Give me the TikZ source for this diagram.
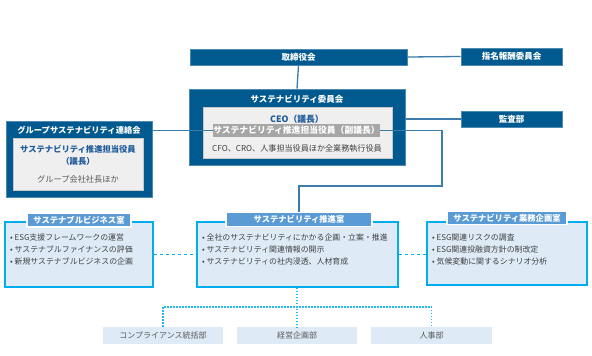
\documentclass[tikz,border=0pt]{standalone}
\usepackage{fontspec}
\setmainfont{Noto Sans CJK JP}
\usetikzlibrary{positioning, calc}
\definecolor{orgnavy}{HTML}{005A8F}
\definecolor{linkblue}{HTML}{3A7CAB}
\definecolor{deskcyan}{HTML}{00AEEF}
\definecolor{tabblue}{HTML}{5B9BD5}
\definecolor{paleblue}{HTML}{DEEBF7}
\definecolor{panelgray}{HTML}{EFEFEF}
\definecolor{chairgray}{HTML}{A6A6A6}
\definecolor{leadblue}{HTML}{1F5C99}
\definecolor{bodygray}{HTML}{404040}
\definecolor{unitgray}{HTML}{595959}

\begin{document}
\begin{tikzpicture}[x=1pt, y=-1pt,
  navybox/.style={rectangle, fill=orgnavy, draw=orgnavy!70!white, line width=0.6pt,
               text=white, inner sep=0pt, font=\fontsize{8.5}{10}\selectfont\bfseries},
  panel/.style={rectangle, fill=panelgray, draw=black!22, line width=0.5pt, inner sep=0pt},
  deskbox/.style={rectangle, fill=paleblue, draw=deskcyan, line width=1.5pt, inner sep=0pt},
  desktab/.style={rectangle, fill=tabblue, draw=white, line width=1.5pt, text=white,
               inner sep=0pt, minimum height=14pt, font=\fontsize{8.3}{10}\selectfont\bfseries},
  items/.style={anchor=north west, align=left, inner sep=0pt, text=bodygray,
               font=\fontsize{7.9}{12}\selectfont},
  unitbox/.style={rectangle, fill=paleblue, inner sep=0pt, minimum width=120pt,
               minimum height=17pt, text=unitgray, font=\fontsize{8}{10}\selectfont},
  link/.style={draw=linkblue, line width=1.3pt},
  deskdash/.style={draw=deskcyan, line width=1.3pt, dash pattern=on 3.5pt off 2.5pt},
  unitdot/.style={draw=deskcyan!85!white, line width=1.3pt, dash pattern=on 1.6pt off 1.4pt},
]
\fill[white] (0,0) rectangle (592,356);
\useasboundingbox (0,0) rectangle (592,356);

% top board and committees
\node[navybox, minimum width=217pt, minimum height=16pt] (board) at (298.5,57) {取締役会};
\node[navybox, minimum width=101pt, minimum height=17pt] (nomination) at (511.5,56.5) {指名報酬委員会};
\node[navybox, minimum width=101pt, minimum height=16pt] (audit) at (511.5,119) {監査部};

% sustainability committee
\node[navybox, minimum width=216pt, minimum height=76pt] (committee) at (297,127) {};
\node[text=white, font=\fontsize{8.5}{10}\selectfont\bfseries] (committeetitle) at (297,99) {サステナビリティ委員会};
\node[panel, minimum width=189pt, minimum height=51pt] (committeepanel) at (297.5,132.5) {};
\node[text=leadblue, font=\fontsize{8.8}{10}\selectfont\bfseries] (ceo) at (297,119.5) {CEO（議長）};
\node[rectangle, fill=chairgray, text=white, inner sep=0pt, minimum width=167pt, minimum height=13pt,
      font=\fontsize{8.8}{10}\selectfont\bfseries] (vice) at (296.5,130.5) {サステナビリティ推進担当役員（副議長）};
\node[text=bodygray, font=\fontsize{8.1}{10}\selectfont] (members) at (297,148) {CFO、CRO、人事担当役員ほか全業務執行役員};

% group liaison meeting
\node[navybox, minimum width=146pt, minimum height=76pt] (group) at (79,159) {};
\node[text=white, font=\fontsize{8.3}{10}\selectfont\bfseries] (grouptitle) at (79,130) {グループサステナビリティ連絡会};
\node[panel, minimum width=130pt, minimum height=52pt] (grouppanel) at (78,164) {};
\node[align=center, text=leadblue, font=\fontsize{8.3}{12}\selectfont\bfseries] (grouplead) at (78,155) {サステナビリティ推進担当役員\\（議長）};
\node[text=unitgray, font=\fontsize{8.2}{10}\selectfont] (groupmembers) at (78,179) {グループ会社社長ほか};

% sustainability desks
\node[deskbox, minimum width=148pt, minimum height=65pt] (business) at (79,254.5) {};
\node[deskbox, minimum width=201pt, minimum height=65pt] (promotion) at (297.5,254.5) {};
\node[deskbox, minimum width=160pt, minimum height=63pt] (planning) at (507,253.5) {};
\node[desktab, minimum width=104pt] (businesstab) at (79,220) {サステナブルビジネス室};
\node[desktab, minimum width=146pt] (promotiontab) at (299,219.5) {サステナビリティ推進室};
\node[desktab, minimum width=120pt, minimum height=13pt] (planningtab) at (507,218) {サステナビリティ業務企画室};

\node[items] (businessitems) at (10,234) {• ESG支援フレームワークの運営\\• サステナブルファイナンスの評価\\• 新規サステナブルビジネスの企画};
\node[items] (promotionitems) at (202,234) {• 全社のサステナビリティにかかる企画・立案・推進\\• サステナビリティ関連情報の開示\\• サステナビリティの社内浸透、人材育成};
\node[items] (planningitems) at (432,234) {• ESG関連リスクの調査\\• ESG関連投融資方針の制改定\\• 気候変動に関するシナリオ分析};

% cooperating departments
\node[unitbox] (compliance) at (163,335.5) {コンプライアンス統括部};
\node[unitbox] (corpplan) at (297,335.5) {経営企画部};
\node[unitbox, minimum width=121pt] (hr) at (431.5,335.5) {人事部};

% connectors
\coordinate (turn) at (442,186);
\coordinate (hub) at (297,307);
\draw[link] (board.south) -- (committee.north);
\draw[link] (board.east) -- (nomination.west);
\draw[link] (committee.east |- audit.west) -- (audit.west);
\draw[link] (group.east |- vice.west) -- (vice.west);
\draw[link] (vice.east) -| (turn) -| (promotiontab.north);
\draw[deskdash] (business.east) -- (promotion.west);
\draw[deskdash] (promotion.east) -- (planning.west |- promotion.east);
\draw[unitdot] (promotion.south -| hub) -- (corpplan.north);
\draw[unitdot] (compliance.north) |- (hub) -| (hr.north);
\end{tikzpicture}
\end{document}
